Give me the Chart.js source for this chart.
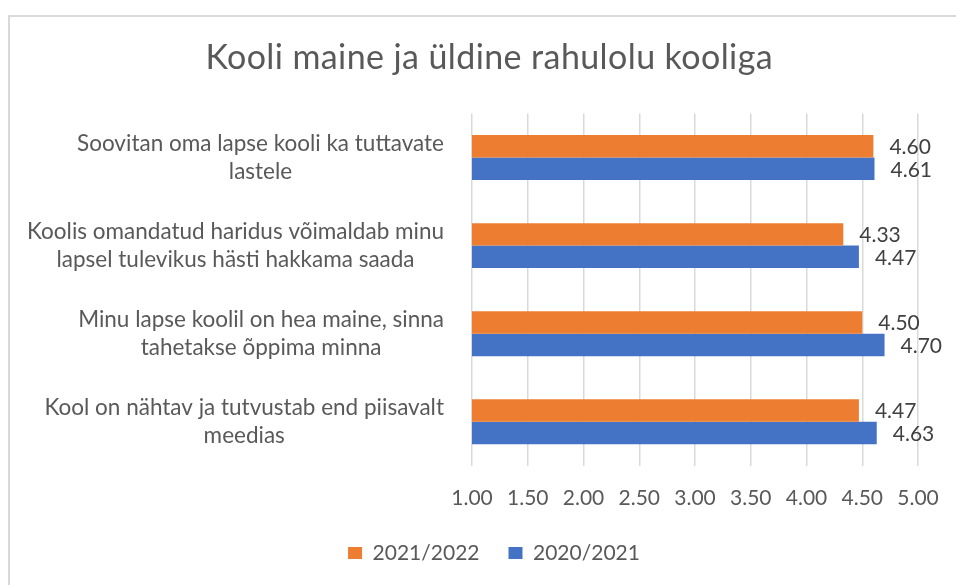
<!DOCTYPE html>
<html lang="et">
<head>
<meta charset="utf-8">
<title>Kooli maine ja üldine rahulolu kooliga</title>
<script src="https://cdn.jsdelivr.net/npm/chart.js@4.4.1/dist/chart.umd.min.js"></script>
<style>
    body { margin: 0; overflow: hidden; background: #fff; }
    #box {
        position: absolute;
        left: 8px;
        top: 15px;
        width: 958px;
        height: 584px;
        border-left: 2px solid #d9d9d9;
        border-top: 2px solid #d9d9d9;
    }
</style>
</head>
<body>
<div id="box"><canvas id="maineChart"></canvas></div>
<script>
const pealkiri = 'Kooli maine ja üldine rahulolu kooliga';
const kategooriad = [
    ['Soovitan oma lapse kooli ka tuttavate', 'lastele'],
    ['Koolis omandatud haridus võimaldab minu', 'lapsel tulevikus hästi hakkama saada'],
    ['Minu lapse koolil on hea maine, sinna', 'tahetakse õppima minna'],
    ['Kool on nähtav ja tutvustab end piisavalt', 'meedias']
];
const aastad = ['2021/2022', '2020/2021'];
const vaartused2122 = [4.60, 4.33, 4.50, 4.47];
const vaartused2021 = [4.61, 4.47, 4.70, 4.63];
const xMin = 1;
const xMax = 5;
const xSamm = 0.5;

const tekstiVarv = '#595959';
const fontNimi = 'Lato';

// pealkiri joonistatakse ise, kogu lõuendi keskele
const pealkiriPlugin = {
    id: 'pealkiriPlugin',
    afterDraw(chart) {
        const ctx = chart.ctx;
        const vahe = 0.4;
        ctx.save();
        ctx.font = '34px ' + fontNimi;
        ctx.letterSpacing = vahe + 'px';
        ctx.fillStyle = tekstiVarv;
        ctx.textAlign = 'center';
        ctx.textBaseline = 'middle';
        ctx.fillText(pealkiri, chart.width / 2 + vahe / 2, chart.chartArea.top - 55);
        ctx.restore();
    }
};

// y-telje sildid: iga silt on paremale joondatud plokk, read plokis keskel
const ySildid = {
    id: 'ySildid',
    afterDraw(chart) {
        const ctx = chart.ctx;
        const y = chart.scales.y;
        const parem = chart.chartArea.left - 28;
        ctx.save();
        ctx.font = '22.5px ' + fontNimi;
        ctx.fillStyle = tekstiVarv;
        ctx.textAlign = 'center';
        ctx.textBaseline = 'middle';
        kategooriad.forEach((read, i) => {
            const laius = Math.max(...read.map(r => ctx.measureText(r).width));
            const cx = parem - laius / 2;
            const cy = y.getPixelForValue(i);
            const rida = 28.4;
            read.forEach((r, j) => {
                ctx.fillText(r, cx, cy + (j - (read.length - 1) / 2) * rida);
            });
        });
        ctx.restore();
    }
};

// väärtused tulpade otsa
const vaartuseSildid = {
    id: 'vaartuseSildid',
    afterDatasetsDraw(chart) {
        const ctx = chart.ctx;
        ctx.save();
        ctx.font = '21px ' + fontNimi;
        ctx.fillStyle = '#404040';
        ctx.textAlign = 'left';
        ctx.textBaseline = 'middle';
        chart.data.datasets.forEach((ds, d) => {
            chart.getDatasetMeta(d).data.forEach((bar, i) => {
                ctx.fillText(ds.data[i].toFixed(2), bar.x + 16, bar.y + 1);
            });
        });
        ctx.restore();
    }
};

document.addEventListener('DOMContentLoaded', function () {
    const ctx = document.getElementById('maineChart').getContext('2d');
    new Chart(ctx, {
        type: 'bar',
        data: {
            labels: kategooriad.map(k => k.join(' ')),
            datasets: [
                {
                    label: aastad[0],
                    data: vaartused2122,
                    backgroundColor: '#ED7D31',
                    categoryPercentage: 0.51,
                    barPercentage: 1
                },
                {
                    label: aastad[1],
                    data: vaartused2021,
                    backgroundColor: '#4472C4',
                    categoryPercentage: 0.51,
                    barPercentage: 1
                }
            ]
        },
        options: {
            indexAxis: 'y',
            responsive: true,
            maintainAspectRatio: false,
            animation: false,
            layout: {
                padding: { left: 60, right: 50, top: 96.5, bottom: 27.5 }
            },
            scales: {
                x: {
                    min: xMin,
                    max: xMax,
                    ticks: {
                        stepSize: xSamm,
                        padding: 20,
                        color: tekstiVarv,
                        font: { family: fontNimi, size: 21 },
                        callback: v => v.toFixed(2)
                    },
                    grid: {
                        color: '#d9d9d9',
                        lineWidth: 1.5,
                        drawTicks: false
                    },
                    border: { display: false },
                    afterFit: function (scale) {
                        scale.height -= 17.5;
                    }
                },
                y: {
                    ticks: { display: false },
                    grid: { display: false },
                    border: { display: false },
                    afterFit: function (scale) {
                        scale.width = 402;
                    }
                }
            },
            plugins: {
                title: { display: false },
                legend: {
                    position: 'bottom',
                    labels: {
                        boxWidth: 14,
                        boxHeight: 12,
                        padding: 29,
                        color: tekstiVarv,
                        font: { family: fontNimi, size: 21 }
                    }
                },
                tooltip: { enabled: false }
            }
        },
        plugins: [pealkiriPlugin, ySildid, vaartuseSildid]
    });
});
</script>
</body>
</html>
